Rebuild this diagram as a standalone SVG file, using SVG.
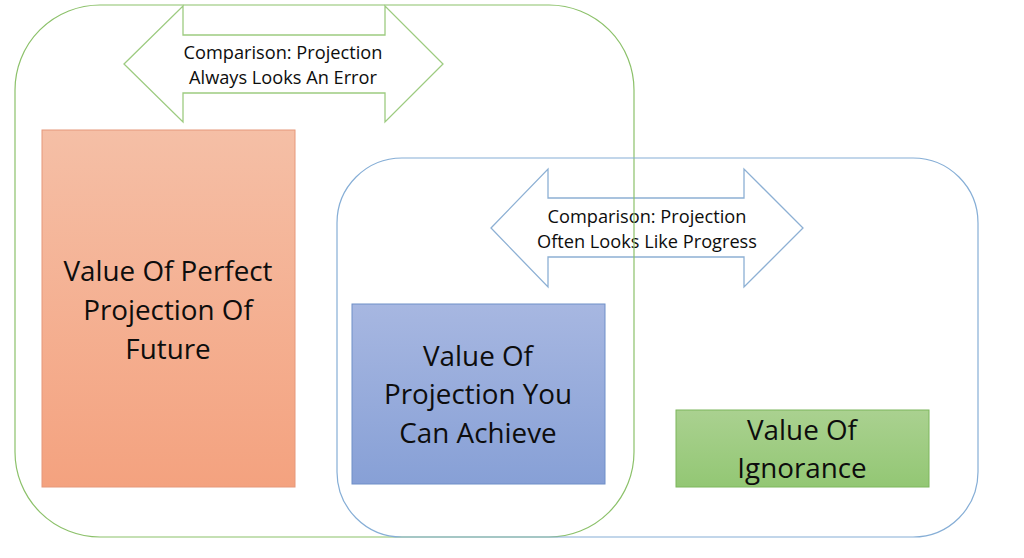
<svg xmlns="http://www.w3.org/2000/svg" width="1024" height="558" viewBox="0 0 1024 558">
<defs>
<linearGradient id="gOrange" x1="0" y1="0" x2="0" y2="1"><stop offset="0" stop-color="#F5BFA6"/><stop offset="1" stop-color="#F4A27F"/></linearGradient>
<linearGradient id="gBlue" x1="0" y1="0" x2="0" y2="1"><stop offset="0" stop-color="#A7B7E1"/><stop offset="1" stop-color="#87A0D6"/></linearGradient>
<linearGradient id="gGreen" x1="0" y1="0" x2="0" y2="1"><stop offset="0" stop-color="#AAD190"/><stop offset="1" stop-color="#93C774"/></linearGradient>
<style>
text{font-family:"Open Sans","Liberation Sans",sans-serif;font-variant-ligatures:none;fill:#0d0d0d;text-anchor:middle}
.big{font-size:27.8px}
.sm{font-size:18.2px}
.arrowG{fill:#fff;stroke:#9DCB80;stroke-width:1.3}
.arrowB{fill:#fff;stroke:#8DB0D4;stroke-width:1.3}
</style>
</defs>
<rect width="1024" height="558" fill="#fff"/>
<g id="arrow-top">
<polygon class="arrowG" points="124,64 183,6 183,35 385,35 385,6 443,64 385,122 385,93 183,93 183,122"/>
<text class="sm" x="283" y="59">Comparison: Projection</text>
<text class="sm" x="283" y="84">Always Looks An Error</text>
</g>
<g id="arrow-mid">
<polygon class="arrowB" points="491,228 548,169 548,198 744,198 744,169 803,228 744,287 744,257 548,257 548,287"/>
<text class="sm" x="647" y="223">Comparison: Projection</text>
<text class="sm" x="647" y="248">Often Looks Like Progress</text>
</g>
<g id="node-perfect">
<rect x="42" y="130" width="253" height="357" fill="url(#gOrange)" stroke="#E6987A" stroke-width="1"/>
<text class="big" x="168" y="281">Value Of Perfect</text>
<text class="big" x="168" y="320">Projection Of</text>
<text class="big" x="168" y="359">Future</text>
</g>
<g id="node-achieve">
<rect x="352" y="304" width="253" height="180" fill="url(#gBlue)" stroke="#6F8FC8" stroke-width="1"/>
<text class="big" x="478" y="366">Value Of</text>
<text class="big" x="478" y="404">Projection You</text>
<text class="big" x="478" y="443">Can Achieve</text>
</g>
<g id="node-ignorance">
<rect x="676" y="410" width="253" height="77" fill="url(#gGreen)" stroke="#7DB65C" stroke-width="1"/>
<text class="big" x="802" y="440">Value Of</text>
<text class="big" x="802" y="478">Ignorance</text>
</g>
<g id="containers">
<rect id="container-green" x="15" y="5" width="619" height="532" rx="85" ry="85" fill="none" stroke="#8CC16A" stroke-width="1.2"/>
<rect id="container-blue" x="337" y="158" width="641" height="379" rx="65" ry="65" fill="none" stroke="#86AED6" stroke-width="1.2"/>
</g>
</svg>
